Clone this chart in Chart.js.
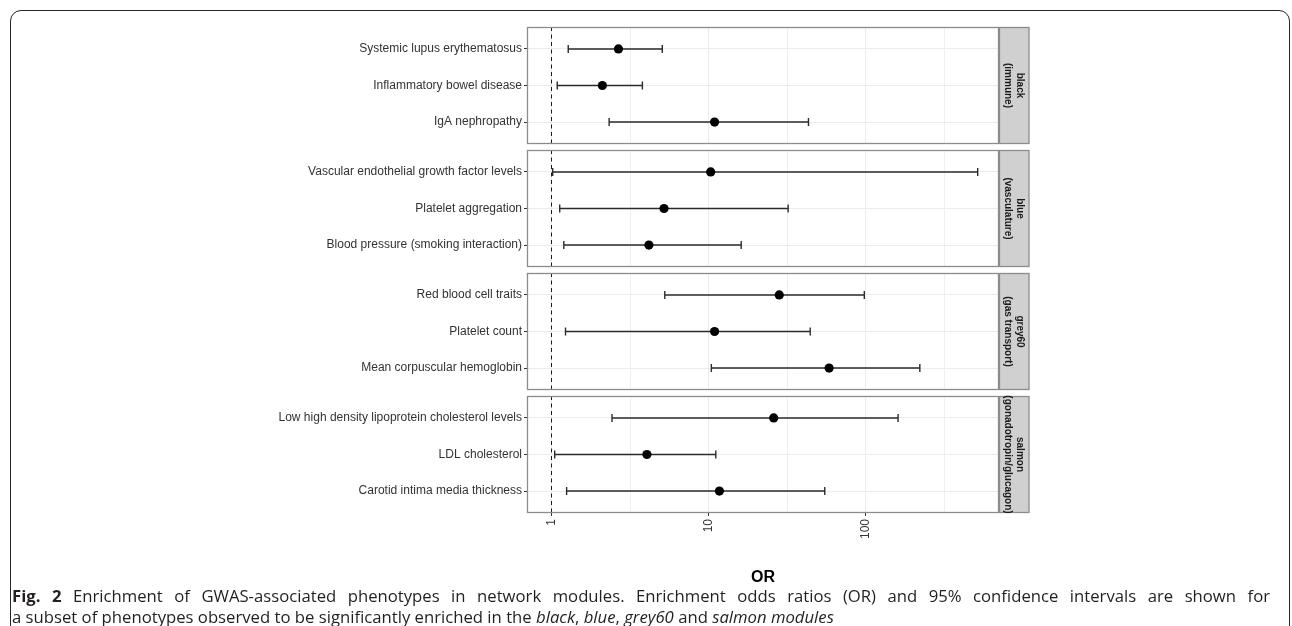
<!DOCTYPE html>
<html><head><meta charset="utf-8">
<script src="https://cdn.jsdelivr.net/npm/chart.js@4/dist/chart.umd.min.js"></script>
<style>
html,body{margin:0;padding:0;background:#fff;width:1292px;height:626px;overflow:hidden;position:relative;}
#frame{position:absolute;left:10px;top:10px;width:1280px;height:760px;border:1.5px solid #262626;border-radius:11px;box-sizing:border-box;}
.panel{position:absolute;left:0;width:1040px;}
.cap{position:absolute;left:12px;width:1258px;font-family:'Open Sans',sans-serif;font-size:16.7px;line-height:21px;color:#231f20;white-space:nowrap;}
#cap1{top:585px;text-align:justify;text-align-last:justify;}
#cap2{top:606px;text-align:left;}
</style></head>
<body>
<div id="frame"></div>
<div class="panel" style="top:25px;height:121px"><canvas id="p0" width="1040" height="121"></canvas></div>
<div class="panel" style="top:148px;height:121px"><canvas id="p1" width="1040" height="121"></canvas></div>
<div class="panel" style="top:271px;height:121px"><canvas id="p2" width="1040" height="121"></canvas></div>
<div class="panel" style="top:394px;height:193px"><canvas id="p3" width="1040" height="193"></canvas></div>
<div class="cap" id="cap1"><b>Fig. 2</b> Enrichment of GWAS-associated phenotypes in network modules. Enrichment odds ratios (OR) and 95% confidence intervals are shown for</div>
<div class="cap" id="cap2">a subset of phenotypes observed to be significantly enriched in the <i>black</i>, <i>blue</i>, <i>grey60</i> and <i>salmon modules</i></div>
<script>
// ---- data ----
const moduleNames = ['black', 'blue', 'grey60', 'salmon'];
const moduleRoles = ['(immune)', '(vasculature)', '(gas transport)', '(gonadotropin/glucagon)'];
const blackTraits = ['Systemic lupus erythematosus', 'Inflammatory bowel disease', 'IgA nephropathy'];
const blueTraits = ['Vascular endothelial growth factor levels', 'Platelet aggregation', 'Blood pressure (smoking interaction)'];
const grey60Traits = ['Red blood cell traits', 'Platelet count', 'Mean corpuscular hemoglobin'];
const salmonTraits = ['Low high density lipoprotein cholesterol levels', 'LDL cholesterol', 'Carotid intima media thickness'];
const blackOR = [2.67, 2.11, 10.9];
const blackLow = [1.28, 1.09, 2.33];
const blackHigh = [5.07, 3.79, 43.1];
const blueOR = [10.3, 5.2, 4.17];
const blueLow = [1.02, 1.13, 1.2];
const blueHigh = [513, 32, 16.1];
const grey60OR = [28.1, 10.9, 58.3];
const grey60Low = [5.26, 1.23, 10.4];
const grey60High = [97.6, 44.2, 220];
const salmonOR = [25.9, 4.05, 11.7];
const salmonLow = [2.43, 1.05, 1.25];
const salmonHigh = [160, 11.1, 54.7];
const xTickLabels = [1, 10, 100];
const xMinorGrid = [3.162, 31.62, 316.2];
const referenceOR = 1;
const axisTitle = 'OR';

const traits = [blackTraits, blueTraits, grey60Traits, salmonTraits];
const ors = [blackOR, blueOR, grey60OR, salmonOR];
const lows = [blackLow, blueLow, grey60Low, salmonLow];
const highs = [blackHigh, blueHigh, grey60High, salmonHigh];

// x limits like ggplot (5% expansion of log range incl. reference line)
const allVals = [referenceOR].concat(...lows, ...highs);
const lmin = Math.log10(Math.min(...allVals)), lmax = Math.log10(Math.max(...allVals));
const ex = (lmax - lmin) * 0.05;
const xMin = Math.pow(10, lmin - ex), xMax = Math.pow(10, lmax + ex);
const gridVals = xTickLabels.concat(xMinorGrid).sort((a, b) => a - b);

const FONT = '"Liberation Sans", Arial, sans-serif';

const decor = {
  id: 'decor',
  beforeDatasetsDraw(chart, args, opts) {
    const {ctx, chartArea: a, scales: {x, y}} = chart;
    const i = opts.index;
    ctx.save();
    ctx.beginPath(); ctx.rect(a.left, a.top, a.width, a.height); ctx.clip();
    const xr = Math.round(x.getPixelForValue(referenceOR)) + 0.5;
    ctx.setLineDash([4, 3.5]); ctx.strokeStyle = '#1a1a1a'; ctx.lineWidth = 1;
    ctx.beginPath(); ctx.moveTo(xr, a.top); ctx.lineTo(xr, a.bottom); ctx.stroke();
    ctx.setLineDash([]);
    ctx.strokeStyle = '#2b2b2b'; ctx.lineWidth = 1.4;
    lows[i].forEach((lo, j) => {
      const x0 = x.getPixelForValue(lo), x1 = x.getPixelForValue(highs[i][j]);
      const yy = y.getPixelForValue(j + 1);
      ctx.beginPath();
      ctx.moveTo(x0, yy); ctx.lineTo(x1, yy);
      ctx.moveTo(x0, yy - 4); ctx.lineTo(x0, yy + 4);
      ctx.moveTo(x1, yy - 4); ctx.lineTo(x1, yy + 4);
      ctx.stroke();
    });
    ctx.restore();
  },
  afterDraw(chart, args, opts) {
    const {ctx, chartArea: a} = chart;
    const i = opts.index;
    ctx.save();
    ctx.fillStyle = '#d0d0d0';
    ctx.fillRect(a.right, a.top, 30, a.height);
    ctx.strokeStyle = '#8c8c8c'; ctx.lineWidth = 1.3;
    ctx.strokeRect(a.right + 0.5, a.top + 0.5, 29.5, a.height - 1);
    ctx.strokeRect(a.left + 0.5, a.top + 0.5, a.width - 1, a.height - 1);
    ctx.translate(a.right + 15, (a.top + a.bottom) / 2);
    ctx.rotate(Math.PI / 2);
    ctx.fillStyle = '#1a1a1a';
    ctx.font = 'bold 10px ' + FONT;
    ctx.textAlign = 'center'; ctx.textBaseline = 'middle';
    ctx.fillText(moduleNames[i], 0, -6);
    ctx.fillText(moduleRoles[i], 0, 6);
    ctx.restore();
  }
};

function makePanel(i) {
  const last = i === 3;
  const labels = traits[i];
  new Chart(document.getElementById('p' + i), {
    type: 'scatter',
    data: {datasets: [{
      data: ors[i].map((v, j) => ({x: v, y: j + 1})),
      pointRadius: 4.6, pointHoverRadius: 4.6,
      pointBackgroundColor: '#000', pointBorderColor: '#000', pointBorderWidth: 0
    }]},
    options: {
      responsive: false, animation: false, events: [],
      layout: {autoPadding: false, padding: {left: 0, right: 41, top: 2, bottom: last ? 0 : 2}},
      plugins: {legend: {display: false}, tooltip: {enabled: false}, decor: {index: i}},
      scales: {
        x: {
          type: 'logarithmic', min: xMin, max: xMax,
          afterBuildTicks: s => { s.ticks = gridVals.map(v => ({value: v})); },
          afterFit: s => { s.height = last ? 74 : 0; s.paddingLeft = 0; s.paddingRight = 0; },
          ticks: {
            display: last, autoSkip: false, minRotation: 90, maxRotation: 90, padding: 3,
            color: '#333', font: {family: FONT, size: 12},
            callback: v => xTickLabels.includes(v) ? String(v) : ''
          },
          grid: {
            color: '#ebebeb',
            lineWidth: c => (c.tick && xTickLabels.includes(c.tick.value)) ? 1 : 0.8,
            drawTicks: last, tickLength: 3,
            tickColor: c => (c.tick && xTickLabels.includes(c.tick.value)) ? '#333' : 'rgba(0,0,0,0)'
          },
          border: {display: false},
          title: {display: last, text: axisTitle, color: '#000',
                  font: {family: FONT, size: 16, weight: 'bold'}, padding: {top: 0, bottom: 0}}
        },
        y: {
          type: 'linear', reverse: true, min: 0.4, max: 3.6,
          afterBuildTicks: s => { s.ticks = labels.map((_, j) => ({value: j + 1})); },
          afterFit: s => { s.width = 527; s.paddingTop = 0; s.paddingBottom = 0; },
          ticks: {autoSkip: false, padding: 2, color: '#333', font: {family: FONT, size: 12},
                  callback: v => labels[v - 1]},
          grid: {color: '#ebebeb', lineWidth: 1, tickLength: 3, tickColor: '#333'},
          border: {display: false}
        }
      }
    },
    plugins: [decor]
  });
}
[0, 1, 2, 3].forEach(makePanel);
</script>
</body></html>
